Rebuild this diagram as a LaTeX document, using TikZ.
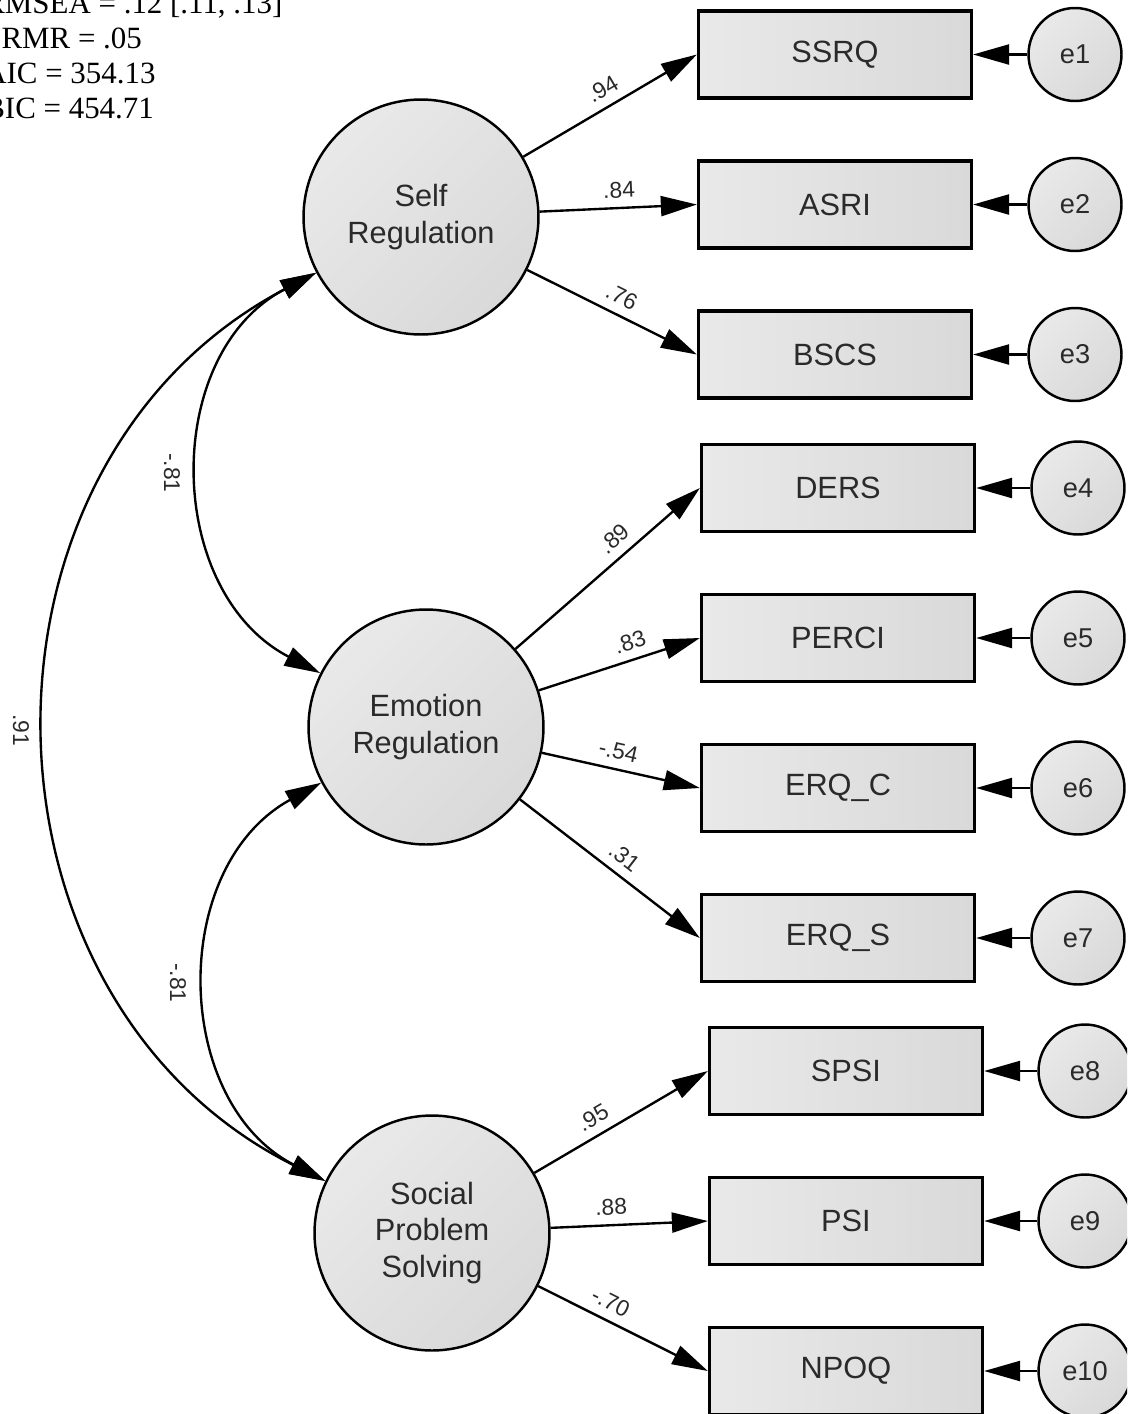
\documentclass[tikz,border=0pt]{standalone}
\usepackage{fontspec}
\setmainfont{Liberation Serif}
\newfontfamily\diagfont{Liberation Sans}
\usetikzlibrary{arrows.meta}

\definecolor{fillL}{HTML}{E9E9E9}
\definecolor{fillD}{HTML}{D9D9D9}
\definecolor{ink}{HTML}{2A2A2A}

\begin{document}
\begin{tikzpicture}[x=0.02cm, y=-0.02cm,
  latent/.style={circle, draw=black, line width=1.4pt, minimum size=4.7cm,
    inner sep=0pt, top color=fillL, bottom color=fillD, shading angle=45,
    font=\diagfont\fontsize{17.5}{20.8}\selectfont, text=ink, align=center},
  observed/.style={rectangle, draw=black, line width=1.9pt,
    minimum width=5.46cm, minimum height=1.74cm, inner sep=0pt,
    left color=fillL, right color=fillD,
    font=\diagfont\fontsize{17.5}{21}\selectfont, text=ink},
  errvar/.style={circle, draw=black, line width=1.4pt, minimum size=1.86cm,
    inner sep=0pt, top color=fillL, bottom color=fillD, shading angle=45,
    font=\diagfont\fontsize{15.5}{18}\selectfont, text=ink},
  load/.style={line width=1.35pt, -{Triangle[length=0.72cm, width=0.4cm]}},
  cov/.style={line width=1.35pt,
    {Triangle[length=0.72cm, width=0.4cm]}-{Triangle[length=0.72cm, width=0.4cm]}},
  coef/.style={font=\diagfont\fontsize{13}{15}\selectfont, text=ink,
    sloped, above=4pt, inner sep=1pt},
  covlab/.style={font=\diagfont\fontsize{13}{15}\selectfont, text=ink,
    rotate=-90, inner sep=1pt},
  fit/.style={anchor=base west, inner sep=0pt,
    font=\fontsize{17.6}{20}\selectfont, text=black}
]
\useasboundingbox (0,0) rectangle (1127,1414);
\fill[white] (0,0) rectangle (1127,1414);
\clip (0,0) rectangle (1127,1414);

% fit statistics
\node[fit] (rmsea) at (-16,13)  {RMSEA = .12 [.11, .13]};
\node[fit] (srmr)  at (-16,48)  {SRMR = .05};
\node[fit] (aic)   at (-16,83)  {AIC = 354.13};
\node[fit] (bic)   at (-16,118) {BIC = 454.71};

% latent factors
\node[latent] (SR)  at (421,217)  {Self\\Regulation};
\node[latent] (ER)  at (426,727)  {Emotion\\Regulation};
\node[latent] (SPS) at (432,1233) {Social\\Problem\\Solving};

% observed indicators
\node[observed] (SSRQ)  at (835,54.5)  {SSRQ};
\node[observed] (ASRI)  at (835,204.5) {ASRI};
\node[observed] (BSCS)  at (835,354.5) {BSCS};
\node[observed] (DERS)  at (838,488)   {DERS};
\node[observed] (PERCI) at (838,638)   {PERCI};
\node[observed] (ERQC)  at (838,788)   {ERQ\_C};
\node[observed] (ERQS)  at (838,938)   {ERQ\_S};
\node[observed] (SPSI)  at (846,1071)  {SPSI};
\node[observed] (PSI)   at (846,1221)  {PSI};
\node[observed] (NPOQ)  at (846,1371)  {NPOQ};

% error terms
\node[errvar] (e1)  at (1075,54.5)  {e1};
\node[errvar] (e2)  at (1075,204.5) {e2};
\node[errvar] (e3)  at (1075,354.5) {e3};
\node[errvar] (e4)  at (1078,488)   {e4};
\node[errvar] (e5)  at (1078,638)   {e5};
\node[errvar] (e6)  at (1078,788)   {e6};
\node[errvar] (e7)  at (1078,938)   {e7};
\node[errvar] (e8)  at (1085,1071)  {e8};
\node[errvar] (e9)  at (1085,1221)  {e9};
\node[errvar] (e10) at (1085,1371)  {e10};

% factor loadings
\draw[load] (SR) -- node[coef, pos=.51] (l1) {.94} (SSRQ.west);
\draw[load] (SR) -- node[coef, pos=.51] (l2) {.84} (ASRI.west);
\draw[load] (SR) -- node[coef, pos=.51] (l3) {.76} (BSCS.west);
\draw[load] (ER) -- node[coef, pos=.60] (l4) {.89} (DERS.west);
\draw[load] (ER) -- node[coef, pos=.60] (l5) {.83} (PERCI.west);
\draw[load] (ER) -- node[coef, pos=.46] (l6) {-.54} (ERQC.west);
\draw[load] (ER) -- node[coef, pos=.52] (l7) {.31} (ERQS.west);
\draw[load] (SPS) -- node[coef, pos=.39] (l8) {.95} (SPSI.west);
\draw[load] (SPS) -- node[coef, pos=.39] (l9) {.88} (PSI.west);
\draw[load] (SPS) -- node[coef, pos=.38] (l10) {-.70} (NPOQ.west);

% error paths
\foreach \e/\v in {e1/SSRQ, e2/ASRI, e3/BSCS, e4/DERS, e5/PERCI,
                   e6/ERQC, e7/ERQS, e8/SPSI, e9/PSI, e10/NPOQ}
  \draw[load] (\e) -- (\v);

% factor covariances
\draw[cov] (SR.208) .. controls (161,354) and (164,592) .. (ER.153);
\draw[cov] (ER.208) .. controls (168,867) and (172,1102) .. (SPS.154);
\draw[cov] (SR.208) .. controls (-46,463) and (-39,999) .. (SPS.154);

\node[covlab] (c1) at (172,473) {-.81};
\node[covlab] (c2) at (178,983) {-.81};
\node[covlab] (c3) at (21,730)  {.91};
\end{tikzpicture}
\end{document}
